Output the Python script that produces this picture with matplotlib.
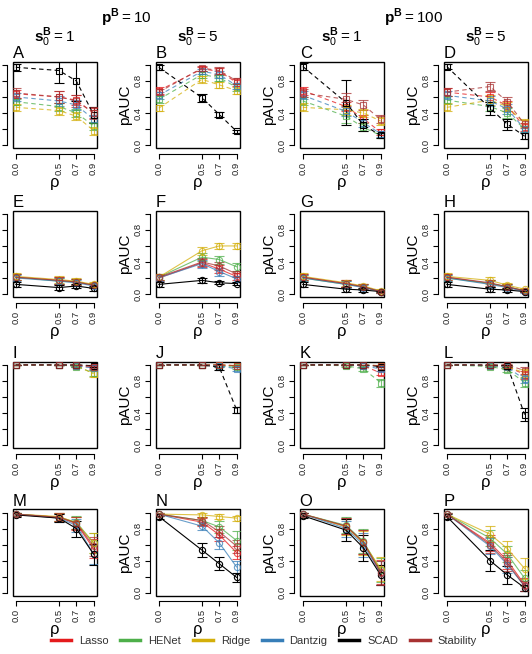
import matplotlib
matplotlib.use("Agg")
import matplotlib.pyplot as plt
from matplotlib.lines import Line2D
from matplotlib.patches import Rectangle

plt.rcParams["font.family"] = ["Liberation Sans", "DejaVu Sans"]
plt.rcParams["mathtext.fontset"] = "custom"
plt.rcParams["mathtext.rm"] = "Liberation Sans"
plt.rcParams["mathtext.bf"] = "Liberation Sans:bold"

# ---- data ------------------------------------------------------------------
rho = [0.0, 0.5, 0.7, 0.9]
methods = ["Lasso", "HENet", "Ridge", "Dantzig", "SCAD", "Stability"]
colors = ["#E41A1C", "#4DAF4A", "#D4AF0A", "#377EB8", "#000000", "#A83232"]
col_titles = [r"$\mathbf{s}_0^{\mathbf{B}} = 1$", r"$\mathbf{s}_0^{\mathbf{B}} = 5$",
              r"$\mathbf{s}_0^{\mathbf{B}} = 1$", r"$\mathbf{s}_0^{\mathbf{B}} = 5$"]
group_titles = [r"$\mathbf{p}^{\mathbf{B}} = 10$", r"$\mathbf{p}^{\mathbf{B}} = 100$"]
letters = list("ABCDEFGHIJKLMNOP")

# mean pAUC per panel, rows in the order of `methods`
pauc_A = [[0.64, 0.60, 0.56, 0.40], [0.54, 0.48, 0.40, 0.24], [0.47, 0.43, 0.36, 0.18],
          [0.60, 0.55, 0.50, 0.32], [0.97, 0.93, 0.80, 0.38], [0.65, 0.60, 0.55, 0.40]]
pauc_B = [[0.68, 0.95, 0.92, 0.78], [0.57, 0.88, 0.84, 0.72], [0.46, 0.82, 0.75, 0.68],
          [0.62, 0.92, 0.88, 0.74], [0.97, 0.59, 0.38, 0.17], [0.66, 0.96, 0.93, 0.80]]
pauc_C = [[0.68, 0.48, 0.33, 0.16], [0.55, 0.36, 0.22, 0.12], [0.47, 0.44, 0.40, 0.30],
          [0.62, 0.42, 0.28, 0.14], [0.98, 0.53, 0.25, 0.12], [0.65, 0.57, 0.50, 0.32]]
pauc_D = [[0.66, 0.60, 0.49, 0.22], [0.56, 0.48, 0.40, 0.20], [0.47, 0.56, 0.48, 0.27],
          [0.62, 0.55, 0.45, 0.20], [0.98, 0.46, 0.26, 0.11], [0.66, 0.73, 0.54, 0.26]]
pauc_E = [[0.21, 0.17, 0.15, 0.11], [0.21, 0.16, 0.15, 0.11], [0.22, 0.18, 0.16, 0.12],
          [0.20, 0.16, 0.14, 0.10], [0.12, 0.08, 0.10, 0.07], [0.21, 0.17, 0.15, 0.11]]
pauc_F = [[0.20, 0.39, 0.31, 0.22], [0.21, 0.46, 0.43, 0.34], [0.21, 0.54, 0.60, 0.60],
          [0.20, 0.38, 0.28, 0.19], [0.12, 0.17, 0.14, 0.13], [0.21, 0.40, 0.35, 0.25]]
pauc_G = [[0.21, 0.13, 0.09, 0.03], [0.20, 0.12, 0.09, 0.03], [0.22, 0.14, 0.10, 0.04],
          [0.20, 0.12, 0.08, 0.03], [0.12, 0.06, 0.05, 0.03], [0.21, 0.13, 0.09, 0.03]]
pauc_H = [[0.21, 0.13, 0.09, 0.04], [0.20, 0.13, 0.09, 0.04], [0.22, 0.17, 0.11, 0.06],
          [0.20, 0.12, 0.08, 0.03], [0.12, 0.06, 0.05, 0.03], [0.21, 0.14, 0.09, 0.04]]
pauc_I = [[1.00, 1.00, 0.99, 0.97], [1.00, 1.00, 0.98, 0.90], [1.00, 1.00, 0.99, 0.89],
          [1.00, 1.00, 0.99, 0.96], [1.00, 1.00, 1.00, 0.99], [1.00, 1.00, 1.00, 0.98]]
pauc_J = [[1.00, 1.00, 1.00, 0.99], [1.00, 1.00, 0.99, 0.97], [1.00, 1.00, 1.00, 0.99],
          [1.00, 1.00, 0.99, 0.95], [1.00, 1.00, 0.97, 0.44], [1.00, 1.00, 1.00, 0.99]]
pauc_K = [[1.00, 1.00, 0.99, 0.90], [1.00, 0.99, 0.95, 0.78], [1.00, 1.00, 1.00, 0.99],
          [1.00, 1.00, 0.99, 0.95], [1.00, 1.00, 1.00, 0.98], [1.00, 1.00, 1.00, 0.99]]
pauc_L = [[1.00, 0.99, 0.98, 0.88], [1.00, 0.98, 0.94, 0.78], [1.00, 0.99, 0.98, 0.90],
          [1.00, 0.99, 0.97, 0.82], [1.00, 1.00, 0.99, 0.38], [1.00, 1.00, 1.00, 0.93]]
pauc_M = [[0.98, 0.94, 0.86, 0.55], [0.98, 0.94, 0.88, 0.62], [0.98, 0.95, 0.87, 0.62],
          [0.98, 0.93, 0.84, 0.48], [0.97, 0.93, 0.80, 0.48], [0.98, 0.94, 0.87, 0.58]]
pauc_N = [[0.98, 0.88, 0.72, 0.50], [0.98, 0.90, 0.82, 0.65], [0.98, 0.97, 0.95, 0.93],
          [0.98, 0.83, 0.62, 0.32], [0.95, 0.53, 0.36, 0.19], [0.98, 0.90, 0.76, 0.58]]
pauc_O = [[0.98, 0.83, 0.63, 0.26], [0.98, 0.84, 0.64, 0.28], [0.98, 0.82, 0.62, 0.30],
          [0.98, 0.80, 0.60, 0.24], [0.96, 0.78, 0.56, 0.22], [0.98, 0.83, 0.63, 0.25]]
pauc_P = [[0.98, 0.62, 0.40, 0.10], [0.98, 0.68, 0.48, 0.18], [0.98, 0.73, 0.55, 0.30],
          [0.98, 0.58, 0.35, 0.08], [0.95, 0.40, 0.22, 0.06], [0.98, 0.60, 0.37, 0.08]]

# error bar half-widths per panel (same layout as the means)
err_A = [[0.05, 0.08, 0.06, 0.06], [0.04, 0.05, 0.05, 0.05], [0.04, 0.05, 0.05, 0.05],
         [0.05, 0.06, 0.06, 0.05], [0.04, 0.15, 0.25, 0.10], [0.06, 0.08, 0.07, 0.07]]
err_B = [[0.04, 0.03, 0.04, 0.04], [0.04, 0.04, 0.04, 0.04], [0.04, 0.04, 0.04, 0.04],
         [0.04, 0.03, 0.04, 0.04], [0.03, 0.05, 0.03, 0.02], [0.04, 0.03, 0.04, 0.04]]
err_C = [[0.05, 0.06, 0.05, 0.04], [0.05, 0.08, 0.05, 0.03], [0.05, 0.06, 0.05, 0.05],
         [0.05, 0.06, 0.05, 0.04], [0.04, 0.28, 0.08, 0.03], [0.05, 0.08, 0.06, 0.05]]
err_D = [[0.05, 0.06, 0.06, 0.05], [0.05, 0.06, 0.06, 0.04], [0.05, 0.06, 0.06, 0.05],
         [0.05, 0.06, 0.06, 0.04], [0.03, 0.08, 0.07, 0.04], [0.05, 0.06, 0.06, 0.05]]
err_E = [[0.04, 0.04, 0.04, 0.03], [0.04, 0.04, 0.04, 0.03], [0.04, 0.04, 0.04, 0.03],
         [0.04, 0.04, 0.04, 0.03], [0.03, 0.03, 0.03, 0.03], [0.04, 0.04, 0.04, 0.03]]
err_F = [[0.04, 0.05, 0.05, 0.04], [0.04, 0.05, 0.05, 0.05], [0.04, 0.05, 0.04, 0.04],
         [0.04, 0.05, 0.05, 0.04], [0.03, 0.03, 0.02, 0.02], [0.04, 0.05, 0.05, 0.04]]
err_G = [[0.04, 0.04, 0.03, 0.02], [0.04, 0.04, 0.03, 0.02], [0.04, 0.04, 0.03, 0.02],
         [0.04, 0.04, 0.03, 0.02], [0.03, 0.03, 0.02, 0.01], [0.04, 0.04, 0.03, 0.02]]
err_H = [[0.04, 0.04, 0.03, 0.02], [0.04, 0.04, 0.03, 0.02], [0.04, 0.04, 0.03, 0.02],
         [0.04, 0.04, 0.03, 0.02], [0.03, 0.03, 0.02, 0.01], [0.04, 0.04, 0.03, 0.02]]
err_I = [[0.005, 0.005, 0.01, 0.02], [0.005, 0.005, 0.01, 0.04], [0.005, 0.005, 0.01, 0.04],
         [0.005, 0.005, 0.01, 0.02], [0.005, 0.005, 0.005, 0.01], [0.005, 0.005, 0.005, 0.02]]
err_J = [[0.005, 0.005, 0.005, 0.01], [0.005, 0.005, 0.01, 0.02], [0.005, 0.005, 0.005, 0.01],
         [0.005, 0.005, 0.01, 0.02], [0.005, 0.005, 0.03, 0.04], [0.005, 0.005, 0.005, 0.01]]
err_K = [[0.005, 0.005, 0.01, 0.03], [0.005, 0.01, 0.03, 0.05], [0.005, 0.005, 0.005, 0.01],
         [0.005, 0.005, 0.01, 0.02], [0.005, 0.005, 0.005, 0.01], [0.005, 0.005, 0.005, 0.01]]
err_L = [[0.005, 0.01, 0.02, 0.05], [0.005, 0.01, 0.03, 0.06], [0.005, 0.01, 0.02, 0.05],
         [0.005, 0.01, 0.02, 0.05], [0.005, 0.005, 0.01, 0.08], [0.005, 0.005, 0.01, 0.04]]
err_M = [[0.02, 0.05, 0.08, 0.12], [0.02, 0.05, 0.08, 0.12], [0.02, 0.05, 0.08, 0.12],
         [0.02, 0.05, 0.08, 0.12], [0.03, 0.05, 0.10, 0.13], [0.02, 0.05, 0.08, 0.12]]
err_N = [[0.02, 0.05, 0.07, 0.08], [0.02, 0.05, 0.07, 0.12], [0.02, 0.03, 0.03, 0.03],
         [0.02, 0.05, 0.08, 0.08], [0.03, 0.09, 0.08, 0.06], [0.02, 0.05, 0.07, 0.08]]
err_O = [[0.02, 0.10, 0.15, 0.15], [0.02, 0.10, 0.15, 0.15], [0.02, 0.10, 0.15, 0.15],
         [0.02, 0.10, 0.15, 0.15], [0.03, 0.14, 0.16, 0.13], [0.02, 0.10, 0.15, 0.15]]
err_P = [[0.02, 0.10, 0.10, 0.08], [0.02, 0.10, 0.10, 0.10], [0.02, 0.10, 0.10, 0.13],
         [0.02, 0.10, 0.10, 0.06], [0.03, 0.13, 0.11, 0.04], [0.02, 0.10, 0.10, 0.06]]

means = [pauc_A, pauc_B, pauc_C, pauc_D, pauc_E, pauc_F, pauc_G, pauc_H,
         pauc_I, pauc_J, pauc_K, pauc_L, pauc_M, pauc_N, pauc_O, pauc_P]
errs = [err_A, err_B, err_C, err_D, err_E, err_F, err_G, err_H,
        err_I, err_J, err_K, err_L, err_M, err_N, err_O, err_P]

# ---- layout (pixel positions of the R device) -------------------------------
W, H = 532, 654
col_left = [12.7, 155.7, 299.7, 443.7]
row_top = [61.7, 210.7, 361.7, 509.3]
pw, ph = 84, 86.5

fig = plt.figure(figsize=(W / 100, H / 100), dpi=100)

for k in range(16):
    r, c = divmod(k, 4)
    ax = fig.add_axes([col_left[c] / W, 1 - (row_top[r] + ph) / H, pw / W, ph / H])
    dashed = r in (0, 2)
    for m in range(6):
        ax.errorbar(rho, means[k][m], yerr=errs[k][m], color=colors[m],
                    ls=(0, (4, 3)) if dashed else "-", lw=0.8,
                    marker="s" if dashed else "o", ms=4.5, mfc="none", mew=0.8,
                    elinewidth=0.8, capsize=3.5, capthick=0.8,
                    alpha=1.0 if m == 4 else 0.75)
    ax.set_xlim(-0.036, 0.936)
    ax.set_ylim(-0.04, 1.04)
    # R-style detached axes plus full box
    for s in ("top", "right"):
        ax.spines[s].set_visible(False)
    ax.spines["left"].set_position(("outward", 4))
    ax.spines["bottom"].set_position(("outward", 4))
    ax.spines["left"].set_bounds(0, 1)
    ax.spines["bottom"].set_bounds(0, 0.9)
    ax.add_patch(Rectangle((0, 0), 1, 1, transform=ax.transAxes, fill=False,
                           lw=1.0, ec="black", clip_on=False))
    ax.set_xticks(rho)
    ax.set_xticklabels(["0.0", "0.5", "0.7", "0.9"], rotation=90, fontsize=6.8)
    ax.set_yticks([0, 0.2, 0.4, 0.6, 0.8, 1.0])
    if c == 0:
        ax.set_yticklabels([])
    else:
        ax.set_yticklabels(["0.0", "", "0.4", "", "0.8", ""], rotation=90,
                           va="center", fontsize=6.8)
        ax.set_ylabel("pAUC", fontsize=11, labelpad=1)
    ax.tick_params(length=3.5, width=0.8, pad=2, colors="black", labelcolor="#222222")
    ax.set_xlabel("ρ", fontsize=12, labelpad=0)
    ax.text(0, 1.005, letters[k], transform=ax.transAxes, fontsize=12,
            ha="left", va="bottom")

for c in range(4):
    fig.text((col_left[c] + pw / 2) / W, 1 - 37 / H, col_titles[c],
             ha="center", va="center", fontsize=11)
for g in range(2):
    x0 = col_left[2 * g]
    x1 = col_left[2 * g + 1] + pw
    fig.text((x0 + x1) / 2 / W, 1 - 18 / H, group_titles[g],
             ha="center", va="center", fontsize=11)

handles = [Line2D([], [], color=colors[m], lw=2.5) for m in range(6)]
fig.legend(handles, methods, loc="center", bbox_to_anchor=(264 / W, 1 - 641 / H),
           ncol=6, frameon=False, fontsize=8, handlelength=1.8,
           columnspacing=1.05, handletextpad=0.72, labelcolor="#333333")

fig.savefig("out.png", dpi=100)
